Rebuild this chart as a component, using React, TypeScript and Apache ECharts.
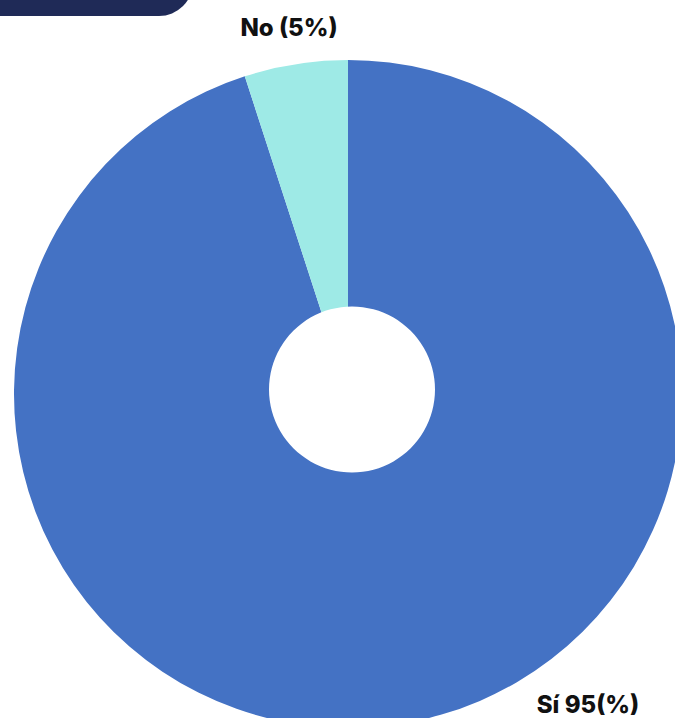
import React, { useEffect, useRef } from "react";
import * as echarts from "echarts";

const categories = ["Sí", "No"];
const values = [95, 5];
const labelTexts = ["Sí 95(%)", "No (5%)"];
const colors = ["#4472C4", "#9EEAE6"];

export default function App() {
  const ref = useRef<HTMLDivElement>(null);
  useEffect(() => {
    if (!ref.current) return;
    const chart = echarts.init(ref.current, null, { renderer: "svg" });
    const labelPos = [
      { x: 588, y: 704 },
      { x: 289, y: 27 },
    ];
    chart.setOption({
      animation: false,
      backgroundColor: "#ffffff",
      graphic: [
        {
          type: "rect",
          shape: { x: -40, y: -60, width: 233, height: 76, r: [0, 0, 34, 0] },
          style: { fill: "#1F2A57" },
        },
        {
          type: "circle",
          shape: { cx: 352, cy: 389.5, r: 83 },
          style: { fill: "#ffffff" },
          z: 10,
        },
      ],
      series: [
        {
          type: "pie",
          center: [348, 394],
          radius: [0, 334],
          startAngle: 90,
          clockwise: true,
          silent: true,
          data: categories.map((c, i) => ({
            name: c,
            value: values[i],
            itemStyle: { color: colors[i] },
            label: { formatter: labelTexts[i] },
          })),
          label: {
            show: true,
            position: "outside",
            fontFamily: "Inter",
            fontWeight: 800,
            fontSize: 24,
            color: "#111111",
          },
          labelLine: { show: false },
          labelLayout: (params: any) => ({
            x: labelPos[params.dataIndex].x,
            y: labelPos[params.dataIndex].y,
            align: "center",
            verticalAlign: "middle",
          }),
        },
      ],
    });
    return () => chart.dispose();
  }, []);
  return (
    <div
      ref={ref}
      style={{ position: "fixed", left: 0, top: 0, width: 675, height: 718 }}
    />
  );
}
